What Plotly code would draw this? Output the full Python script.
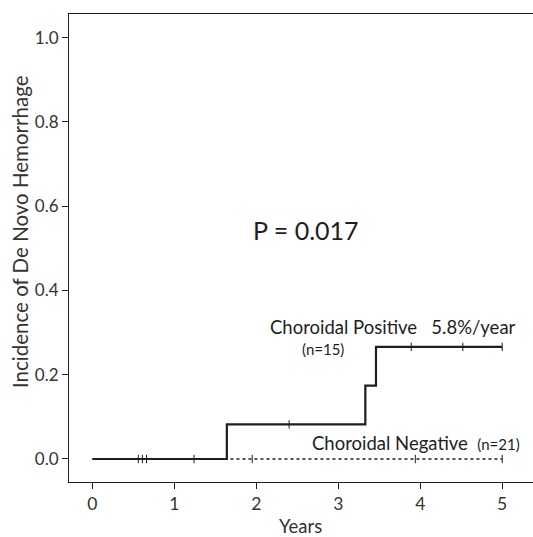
import plotly.graph_objects as go

# Data
pos_time = [0, 1.64, 1.64, 3.33, 3.33, 3.46, 3.46, 5.0]
pos_inc = [0, 0, 0.082, 0.082, 0.174, 0.174, 0.266, 0.266]
pos_cens_t = [0.56, 0.61, 0.66, 1.24, 2.40, 3.89, 4.52, 5.0]
pos_cens_y = [0, 0, 0, 0, 0.082, 0.266, 0.266, 0.266]

neg_time = [0, 5.0]
neg_inc = [0, 0]
neg_cens_t = [1.95, 3.94, 5.0]
neg_cens_y = [0, 0, 0]

x_ticks = [0, 1, 2, 3, 4, 5]
y_ticks = [0.0, 0.2, 0.4, 0.6, 0.8, 1.0]
y_ticklabels = ["0.0", "0.2", "0.4", "0.6", "0.8", "1.0"]

FONT = "Lato"
C = "#1e1e1e"

fig = go.Figure()
fig.add_trace(go.Scatter(x=neg_time, y=neg_inc, mode="lines",
                         line=dict(color=C, width=1.6, dash="dot"), showlegend=False))
fig.add_trace(go.Scatter(x=neg_cens_t, y=neg_cens_y, mode="markers",
                         marker=dict(symbol="line-ns", size=6, line=dict(color=C, width=1)),
                         showlegend=False))
fig.add_trace(go.Scatter(x=pos_time, y=pos_inc, mode="lines",
                         line=dict(color=C, width=2.2), showlegend=False))
fig.add_trace(go.Scatter(x=pos_cens_t, y=pos_cens_y, mode="markers",
                         marker=dict(symbol="line-ns", size=6, line=dict(color=C, width=1)),
                         showlegend=False))

fig.add_annotation(x=2.60, y=0.544, text="P = 0.017", showarrow=False,
                   font=dict(family=FONT, size=25, color=C), xanchor="center", yanchor="middle")
fig.add_annotation(x=2.14, y=0.313, text="Choroidal Positive&nbsp;&nbsp;&nbsp;5.8%/year", showarrow=False,
                   font=dict(family=FONT, size=18.5, color=C), xanchor="left", yanchor="middle")
fig.add_annotation(x=2.81, y=0.262, text="(n=15)", showarrow=False,
                   font=dict(family=FONT, size=15, color=C), xanchor="center", yanchor="middle")
fig.add_annotation(x=2.66, y=0.038, text="Choroidal Negative&nbsp;&nbsp;<span style='font-size:15px'>(n=21)</span>", showarrow=False,
                   font=dict(family=FONT, size=18.5, color=C), xanchor="left", yanchor="middle")

# axis titles as paper annotations
fig.add_annotation(xref="paper", yref="paper", x=(300 - 69) / 464, y=-(526 - 482) / 468,
                   text="Years", showarrow=False, xanchor="center", yanchor="middle",
                   font=dict(family=FONT, size=18.5, color="#333333"))
fig.add_annotation(xref="paper", yref="paper", x=-(69 - 20) / 464, y=(482 - 232) / 468,
                   text="Incidence of De Novo Hemorrhage", showarrow=False, textangle=-90,
                   xanchor="center", yanchor="middle",
                   font=dict(family=FONT, size=20.5, color="#333333"))

fig.update_layout(
    width=533, height=537,
    margin=dict(l=69, r=0, t=14, b=55),
    plot_bgcolor="white", paper_bgcolor="white",
    font=dict(family=FONT, color="#333333"),
)
fig.update_xaxes(range=[-0.286, 5.376], tickvals=x_ticks, ticks="outside", ticklen=6,
                 tickcolor=C, showline=True, linecolor=C, linewidth=1.2, mirror=True,
                 showgrid=False, zeroline=False, tickfont=dict(size=17.5, family=FONT),
                 automargin=False)
fig.update_yaxes(range=[-0.0546, 1.056], tickvals=y_ticks, ticktext=y_ticklabels,
                 ticks="outside", ticklen=6, tickcolor=C, showline=True, linecolor=C,
                 linewidth=1.2, showgrid=False, zeroline=False,
                 tickfont=dict(size=17, family=FONT), automargin=False)

fig.write_html("out.html", config={"displayModeBar": False},
               post_script="document.body.style.margin='0px';document.body.style.overflow='hidden';")
